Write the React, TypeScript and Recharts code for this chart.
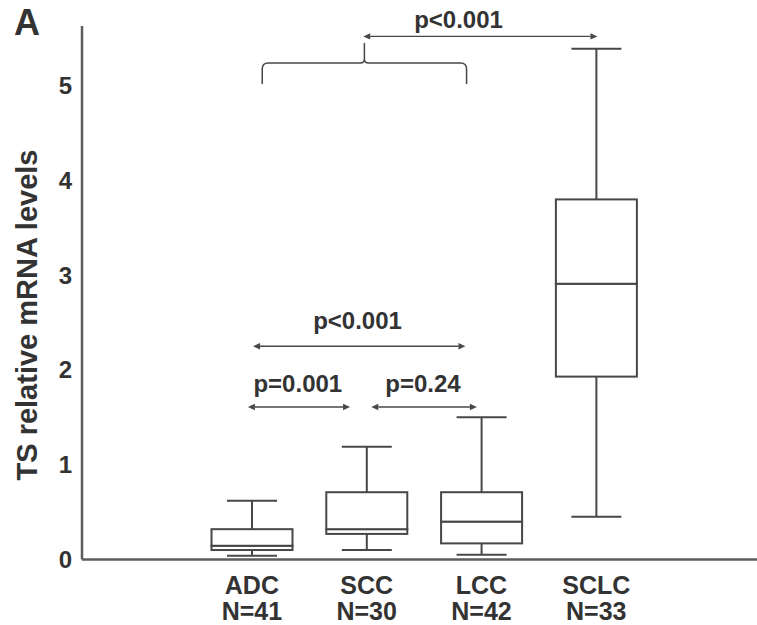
import React from "react";
import {
  ComposedChart,
  Bar,
  XAxis,
  YAxis,
  ReferenceLine,
  ReferenceDot,
} from "recharts";

const groups = ["ADC", "SCC", "LCC", "SCLC"];
const sampleSizes = [41, 30, 42, 33];
const groupPos = [1, 2, 3, 4];
const whiskerLow = [0.04, 0.1, 0.05, 0.45];
const quartile1 = [0.1, 0.27, 0.17, 1.93];
const medians = [0.145, 0.32, 0.4, 2.91];
const quartile3 = [0.32, 0.71, 0.71, 3.8];
const whiskerHigh = [0.62, 1.19, 1.5, 5.39];
const yTicks = [0, 1, 2, 3, 4, 5];

// p-value comparisons (x in group positions, y in mRNA units)
const arrowFrom = [1.97, 1.01, 0.965, 2.04];
const arrowTo = [4.01, 2.86, 1.855, 2.96];
const arrowY = [5.52, 2.25, 1.61, 1.61];
const pLabels = ["p<0.001", "p<0.001", "p=0.001", "p=0.24"];
const pLabelX = [2.8, 1.92, 1.4, 2.49];
const pLabelY = [5.7, 2.52, 1.855, 1.855];

// brace over the NSCLC groups
const braceX = [1.09, 2.87];
const braceY = 5.24;

const FONT = "'Liberation Sans', Arial, Helvetica, sans-serif";
const TEXT = "#333";
const LINE = "#474747";
const AXIS = "#5c5c5c";

const data = groups.map((name, i) => ({
  name,
  n: sampleSizes[i],
  pos: groupPos[i],
  base: whiskerLow[i],
  lowW: quartile1[i] - whiskerLow[i],
  boxLow: medians[i] - quartile1[i],
  boxHigh: quartile3[i] - medians[i],
  highW: whiskerHigh[i] - quartile3[i],
}));

const CAP = 50;

function Empty() {
  return <g />;
}

function LowerWhisker(p: any) {
  const cx = p.x + p.width / 2;
  const bottom = p.y + p.height;
  return (
    <g stroke={LINE} strokeWidth={2}>
      <line x1={cx} x2={cx} y1={p.y} y2={bottom} />
      <line x1={cx - CAP / 2} x2={cx + CAP / 2} y1={bottom} y2={bottom} />
    </g>
  );
}

function UpperWhisker(p: any) {
  const cx = p.x + p.width / 2;
  return (
    <g stroke={LINE} strokeWidth={2}>
      <line x1={cx} x2={cx} y1={p.y} y2={p.y + p.height} />
      <line x1={cx - CAP / 2} x2={cx + CAP / 2} y1={p.y} y2={p.y} />
    </g>
  );
}

function BoxPart(p: any) {
  return (
    <rect
      x={p.x}
      y={p.y}
      width={p.width}
      height={Math.max(p.height, 0)}
      fill="#fff"
      stroke={LINE}
      strokeWidth={2}
    />
  );
}

function ArrowLine(p: any) {
  const { x1, x2, y1 } = p;
  const a = Math.min(x1, x2);
  const b = Math.max(x1, x2);
  const h = 7;
  const w = 3.2;
  return (
    <g>
      <line x1={a + h} x2={b - h} y1={y1} y2={y1} stroke={LINE} strokeWidth={1.4} />
      <path d={`M${a},${y1} L${a + h},${y1 - w} L${a + h},${y1 + w} Z`} fill={LINE} />
      <path d={`M${b},${y1} L${b - h},${y1 - w} L${b - h},${y1 + w} Z`} fill={LINE} />
    </g>
  );
}

function Brace(p: any) {
  const { x1, x2, y1: y } = p;
  const mid = (x1 + x2) / 2;
  const drop = 21;
  const rise = 20;
  const r = 6;
  const d =
    `M${x1},${y + drop} L${x1},${y + r} Q${x1},${y} ${x1 + r},${y} ` +
    `L${mid - 4},${y} Q${mid},${y} ${mid},${y - 4} L${mid},${y - rise} ` +
    `M${x2},${y + drop} L${x2},${y + r} Q${x2},${y} ${x2 - r},${y} ` +
    `L${mid + 4},${y} Q${mid},${y} ${mid},${y - 4}`;
  return <path d={d} fill="none" stroke={LINE} strokeWidth={1.5} />;
}

function GroupTick(p: any) {
  const i = groupPos.indexOf(p.payload.value);
  if (i < 0) return <g />;
  return (
    <text
      x={p.x}
      y={p.y}
      textAnchor="middle"
      fill={TEXT}
      fontFamily={FONT}
      fontWeight={700}
      fontSize={25}
    >
      <tspan x={p.x} dy={34}>
        {groups[i]}
      </tspan>
      <tspan x={p.x} dy={26}>
        N={sampleSizes[i]}
      </tspan>
    </text>
  );
}

function YTitle() {
  return (
    <text
      x={27}
      y={315}
      transform="rotate(-90 27 315)"
      textAnchor="middle"
      dominantBaseline="central"
      fill={TEXT}
      fontFamily={FONT}
      fontWeight={700}
      fontSize={29}
    >
      TS relative mRNA levels
    </text>
  );
}

export default function App() {
  return (
    <div style={{ position: "relative", width: 757, height: 625, background: "#fff" }}>
      <style>{`body{margin:0}`}</style>
      <div
        style={{
          position: "absolute",
          left: 14,
          top: 5,
          fontFamily: FONT,
          fontWeight: 700,
          fontSize: 36,
          color: TEXT,
          lineHeight: 1,
        }}
      >
        A
      </div>
      <ComposedChart
        width={757}
        height={625}
        data={data}
        margin={{ top: 26, right: 0, bottom: 0, left: 0 }}
      >
        <XAxis
          type="number"
          dataKey="pos"
          domain={[-0.48, 5.4]}
          ticks={groupPos}
          allowDataOverflow
          height={65.5}
          tickLine={false}
          tickSize={0}
          tickMargin={0}
          axisLine={{ stroke: AXIS, strokeWidth: 2.5 }}
          tick={<GroupTick />}
          interval={0}
        />
        <YAxis
          type="number"
          domain={[0, 5.63]}
          ticks={yTicks}
          allowDataOverflow
          width={82}
          tickLine={false}
          tickSize={8}
          tickMargin={2}
          axisLine={{ stroke: AXIS, strokeWidth: 2.5 }}
          tick={{ fill: TEXT, fontFamily: FONT, fontWeight: 700, fontSize: 24 }}
          label={{ content: () => <YTitle /> }}
        />
        <Bar dataKey="base" stackId="box" barSize={81} shape={<Empty />} isAnimationActive={false} />
        <Bar dataKey="lowW" stackId="box" barSize={81} shape={<LowerWhisker />} isAnimationActive={false} />
        <Bar dataKey="boxLow" stackId="box" barSize={81} shape={<BoxPart />} isAnimationActive={false} />
        <Bar dataKey="boxHigh" stackId="box" barSize={81} shape={<BoxPart />} isAnimationActive={false} />
        <Bar dataKey="highW" stackId="box" barSize={81} shape={<UpperWhisker />} isAnimationActive={false} />

        <ReferenceLine
          segment={[
            { x: braceX[0], y: braceY },
            { x: braceX[1], y: braceY },
          ]}
          ifOverflow="visible"
          shape={(p: any) => <Brace {...p} />}
        />
        {arrowY.map((y, i) => (
          <ReferenceLine
            key={`arrow-${i}`}
            segment={[
              { x: arrowFrom[i], y },
              { x: arrowTo[i], y },
            ]}
            ifOverflow="visible"
            shape={(p: any) => <ArrowLine {...p} />}
          />
        ))}
        {pLabels.map((t, i) => (
          <ReferenceDot
            key={`plabel-${i}`}
            x={pLabelX[i]}
            y={pLabelY[i]}
            r={0}
            fill="none"
            stroke="none"
            ifOverflow="visible"
            label={{
              value: t,
              position: "center",
              fill: TEXT,
              fontFamily: FONT,
              fontWeight: 700,
              fontSize: 24,
            }}
          />
        ))}
      </ComposedChart>
    </div>
  );
}
